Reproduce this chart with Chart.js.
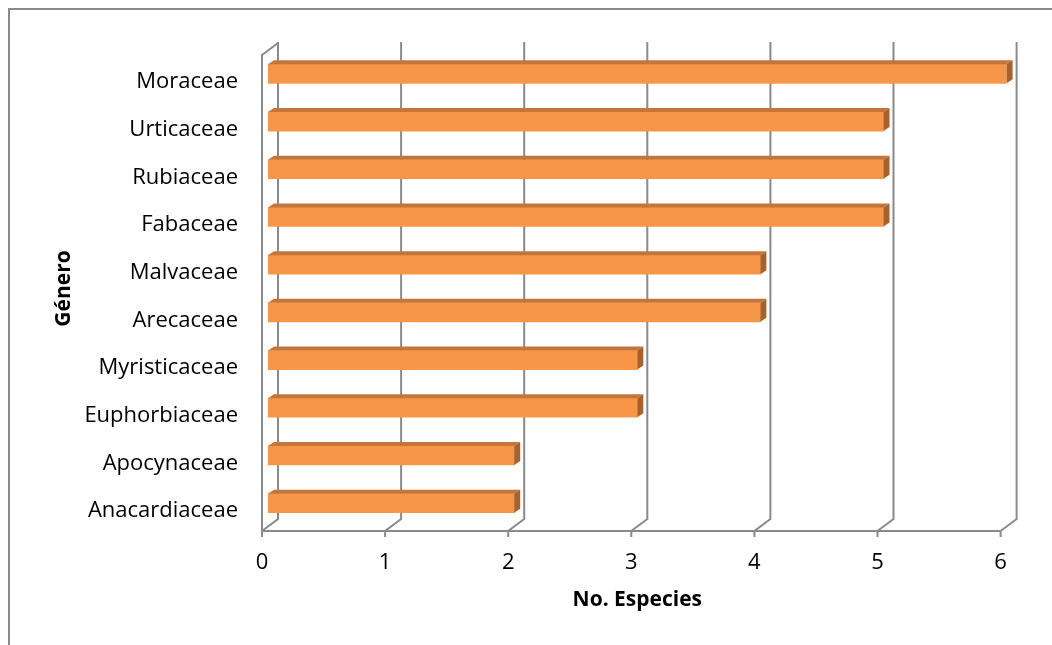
<!DOCTYPE html>
<html>
<head>
<meta charset="utf-8">
<script src="https://cdn.jsdelivr.net/npm/chart.js@4.4.1/dist/chart.umd.min.js"></script>
<style>
  html, body { margin: 0; padding: 0; background: #fff; }
  #wrap { width: 1052px; height: 645px; }
</style>
</head>
<body>
<div id="wrap"><canvas id="chart" width="1052" height="645"></canvas></div>
<script>
const families = [
  "Moraceae", "Urticaceae", "Rubiaceae", "Fabaceae", "Malvaceae",
  "Arecaceae", "Myristicaceae", "Euphorbiaceae", "Apocynaceae", "Anacardiaceae"
];
const species = [6, 5, 5, 5, 4, 4, 3, 3, 2, 2];
const xTicks = [0, 1, 2, 3, 4, 5, 6];

const FRONT = '#f79646';
const TOP = '#c4753a';
const SIDE = '#a8612a';
const GRID = '#8a8a8a';
const FONT = "'Open Sans', sans-serif";

// fake Excel 3d look: floor, walls and bar faces
const excel3d = {
  id: 'excel3d',
  beforeDatasetsDraw(chart) {
    const ctx = chart.ctx;
    const area = chart.chartArea;
    const x = chart.scales.x;
    const yF = area.bottom + 4;
    const yB = yF - 12;
    const yT = area.top - 8;
    ctx.save();
    // outer frame
    ctx.strokeStyle = GRID;
    ctx.lineWidth = 2;
    ctx.beginPath();
    ctx.moveTo(9, chart.height);
    ctx.lineTo(9, 9);
    ctx.lineTo(chart.width, 9);
    ctx.stroke();

    ctx.strokeStyle = GRID;
    ctx.lineWidth = 2;
    ctx.lineJoin = 'miter';
    xTicks.forEach(v => {
      const fx = x.getPixelForValue(v) - 6;
      const bx = fx + 16;
      ctx.beginPath();
      ctx.moveTo(fx, yF + 6);
      ctx.lineTo(fx, yF);
      ctx.lineTo(bx, yB);
      ctx.lineTo(bx, yT);
      ctx.stroke();
    });
    // front edge of floor
    const f0 = x.getPixelForValue(xTicks[0]) - 6;
    const f1 = x.getPixelForValue(xTicks[xTicks.length - 1]) - 6;
    ctx.beginPath();
    ctx.moveTo(f0, yF);
    ctx.lineTo(f1, yF);
    ctx.stroke();
    // left wall edge
    ctx.beginPath();
    ctx.moveTo(f0, yF);
    ctx.lineTo(f0, yT + 13);
    ctx.lineTo(f0 + 16, yT + 1);
    ctx.stroke();
    ctx.restore();
  },
  afterDatasetsDraw(chart) {
    const ctx = chart.ctx;
    const meta = chart.getDatasetMeta(0);
    const dx = 6, dy = 4;
    ctx.save();
    meta.data.forEach(bar => {
      const p = bar.getProps(['x', 'y', 'base', 'height'], true);
      const l = p.base, r = p.x;
      const t = p.y - p.height / 2, b = p.y + p.height / 2;
      ctx.fillStyle = TOP;
      ctx.beginPath();
      ctx.moveTo(l, t);
      ctx.lineTo(r, t);
      ctx.lineTo(r + dx, t - dy);
      ctx.lineTo(l + dx, t - dy);
      ctx.closePath();
      ctx.fill();
      ctx.fillStyle = SIDE;
      ctx.beginPath();
      ctx.moveTo(r, t);
      ctx.lineTo(r + dx, t - dy);
      ctx.lineTo(r + dx, b - dy);
      ctx.lineTo(r, b);
      ctx.closePath();
      ctx.fill();
    });
    ctx.restore();
  }
};

new Chart(document.getElementById('chart'), {
  type: 'bar',
  data: {
    labels: families,
    datasets: [{
      data: species,
      backgroundColor: FRONT,
      borderWidth: 0,
      barThickness: 19
    }]
  },
  options: {
    indexAxis: 'y',
    responsive: false,
    animation: false,
    devicePixelRatio: 1,
    layout: { padding: { left: 40, right: 45.4, top: 50, bottom: 18 } },
    plugins: { legend: { display: false }, tooltip: { enabled: false } },
    scales: {
      x: {
        type: 'linear',
        min: 0,
        max: 6,
        position: 'bottom',
        grid: { display: false, drawTicks: false },
        border: { display: false },
        ticks: { stepSize: 1, padding: 23, labelOffset: -6, color: '#000', font: { family: FONT, size: 22 } },
        title: { display: true, text: 'No. Especies', color: '#000', font: { family: FONT, size: 21, weight: 'bold' }, padding: { top: 0, bottom: 14 } },
        afterFit(scale) { scale.height = 100; }
      },
      y: {
        type: 'category',
        grid: { display: false, drawTicks: false },
        border: { display: false },
        ticks: { padding: 30, labelOffset: 8, color: '#000', font: { family: FONT, size: 22 } },
        title: { display: true, text: 'Género', color: '#000', font: { family: FONT, size: 21, weight: 'bold' }, padding: { top: 11, bottom: 0 } },
        afterFit(scale) { scale.width = 228; }
      }
    }
  },
  plugins: [excel3d]
});
</script>
</body>
</html>
